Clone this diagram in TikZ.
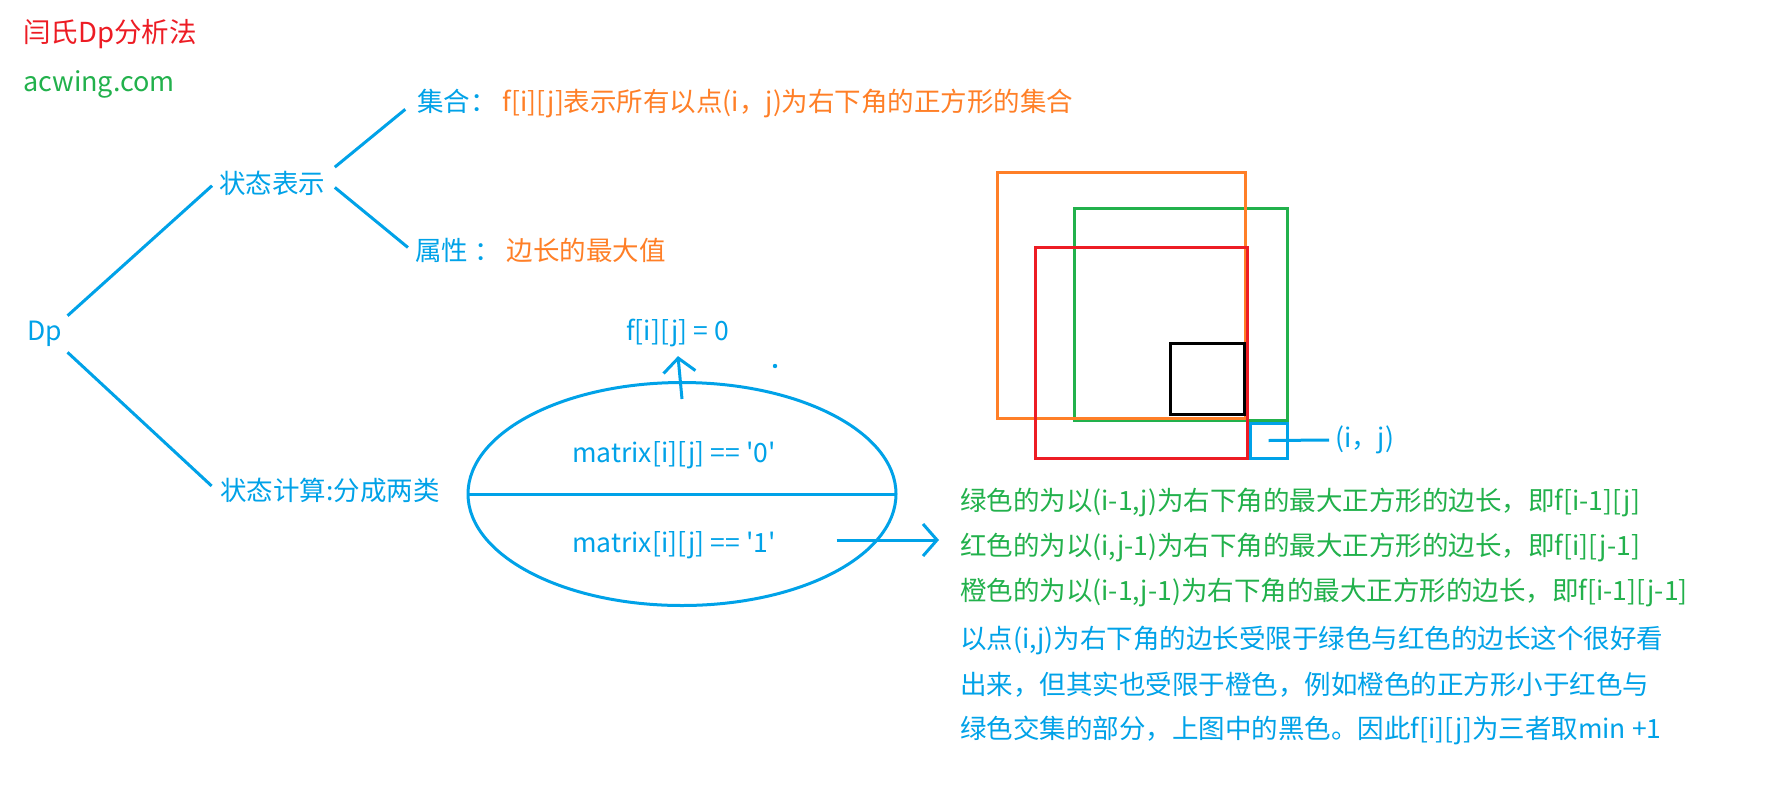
\documentclass[tikz,border=0pt]{standalone}
\usepackage{fontspec}
\newfontfamily\cjk{Noto Sans CJK SC}
\usetikzlibrary{shapes.geometric}
\usetikzlibrary{arrows.meta}
\definecolor{paintblue}{HTML}{00A2E8}
\definecolor{paintorange}{HTML}{FF7F27}
\definecolor{paintgreen}{HTML}{22B14C}
\definecolor{paintred}{HTML}{ED1C24}

\begin{document}
\begin{tikzpicture}[x=1pt, y=-1pt,
	every node/.style={font=\cjk\fontsize{26.5}{30}\selectfont, inner sep=4pt, text=paintblue},
	link/.style={draw=paintblue, line width=3pt},
	pointer/.style={link, -{Straight Barb[length=14pt,width=32pt]}},
	sq/.style={line width=3pt}]
		\fill[white] (0,0) rectangle (1766,785);
		\useasboundingbox (0,0) rectangle (1766,785);
		\node[anchor=west, text=paintred, font=\cjk\fontsize{27.5}{30}\selectfont] (title) at (19,34) {闫氏Dp分析法};
		\node[anchor=west, text=paintgreen, font=\cjk\fontsize{27}{30}\selectfont] (site) at (19,84) {acwing.com};
		\node[anchor=west] (Dp) at (23,334) {Dp};
		\node[anchor=west] (state) at (215,183) {状态表示};
		\node[anchor=west] (set) at (413,103) {集合： {\color{paintorange}f[i][j]表示所有以点(i，j)为右下角的正方形的集合}};
		\node[anchor=west] (attr) at (411,250) {属性 ： {\color{paintorange}边长的最大值}};
		\node[anchor=west] (calc) at (216,490) {状态计算:分成两类};
		\draw[link, shorten <=2pt, shorten >=4pt] (Dp.north east) -- (state.west);
		\draw[link, shorten <=2pt, shorten >=6pt] (Dp.south east) -- (calc.west);
		\draw[link, shorten <=7pt, shorten >=10pt] ([yshift=-5pt]state.north east) -- (set.west);
		\draw[link, shorten <=7pt, shorten >=4pt] (state.east) -- (attr.west);
		% the two cases
		\node[draw=paintblue, line width=3pt, ellipse, minimum width=428pt, minimum height=223pt] (cases) at (682,494) {};
		\draw[link, shorten <=2pt, shorten >=2pt] (cases.west) -- (cases.east);
		\node[anchor=west] (nought) at (568,455) {matrix[i][j] == '0'};
		\node[anchor=west] (one) at (568,545) {matrix[i][j] == '1'};
		\node[anchor=west] (zero) at (622,333) {f[i][j] = 0};
		\draw[pointer, shorten >=5pt] ([yshift=-18pt]cases.north) -- (zero.south);
		\fill[paintblue] (775,366) circle (2.2);
		\coordinate (goal) at (939,540);
		\draw[pointer] ([shift={(57pt,5pt)}]one.east) -- (goal);
		% squares
		\draw[sq, paintgreen] (1074,208) rectangle (1287,420);
		\draw[sq, paintorange] (997,172) rectangle (1245,418);
		\draw[sq, paintred] (1035,247) rectangle (1247,458);
		\draw[sq, black] (1170,343) rectangle (1244,414);
		\node[draw=paintblue, sq, minimum width=37pt, minimum height=35pt] (cell) at (1268.5,440.5) {};
		\node[anchor=west] (ij) at (1331,440) {(i，j)};
		\draw[link, shorten >=2pt] (cell.center) -- (ij.west);
		% explanation
		\node[anchor=west, text=paintgreen] (green) at (956,502) {绿色的为以(i-1,j)为右下角的最大正方形的边长，即f[i-1][j]};
		\node[anchor=west, text=paintgreen] (red) at (956,547) {红色的为以(i,j-1)为右下角的最大正方形的边长，即f[i][j-1]};
		\node[anchor=west, text=paintgreen] (orange) at (956,592) {橙色的为以(i-1,j-1)为右下角的最大正方形的边长，即f[i-1][j-1]};
		\node[anchor=west] (why1) at (956,640) {以点(i,j)为右下角的边长受限于绿色与红色的边长这个很好看};
		\node[anchor=west] (why2) at (956,685) {出来，但其实也受限于橙色，例如橙色的正方形小于红色与};
		\node[anchor=west] (why3) at (956,730) {绿色交集的部分，上图中的黑色。因此f[i][j]为三者取min +1};
\end{tikzpicture}
\end{document}
